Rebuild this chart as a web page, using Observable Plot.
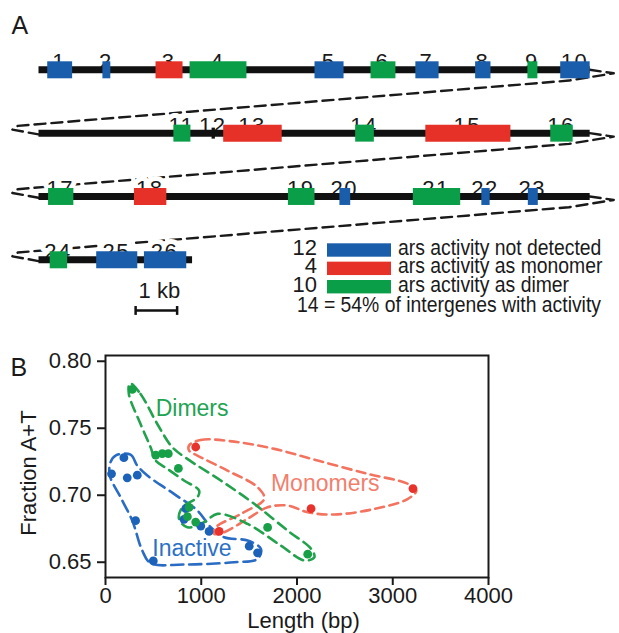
<!DOCTYPE html>
<html><head><meta charset="utf-8">
<script src="https://cdn.jsdelivr.net/npm/d3@7"></script>
<script src="https://cdn.jsdelivr.net/npm/@observablehq/plot@0.6"></script>
<style>
body{margin:0;background:#fff;}
#fig{position:relative;width:619px;height:633px;overflow:hidden;background:#fff;}
#fig svg{position:absolute;left:0;}
</style></head><body><div id="fig"></div>
<script>
const FONT = '"Liberation Sans", Arial, Helvetica, sans-serif';

// ---------- Panel A: intergenic regions (positions in kb along each row) ----------
const ids      = [1,2,3,4,5,6,7,8,9,10, 11,12,13,14,15,16, 17,18,19,20,21,22,23, 24,25,26];
const rows     = [1,1,1,1,1,1,1,1,1,1, 2,2,2,2,2,2, 3,3,3,3,3,3,3, 4,4,4];
const starts   = [0.21,1.54,2.82,3.64,6.65,8.00,9.08,10.52,11.78,12.57, 3.25,4.17,4.45,7.63,9.32,12.33, 0.23,2.30,6.01,7.25,9.02,10.67,11.79, 0.27,1.39,2.54];
const ends     = [0.81,1.73,3.47,5.01,7.35,8.60,9.64,10.89,12.02,13.28, 3.66,4.25,5.86,8.08,11.37,12.87, 0.84,3.08,6.65,7.51,10.16,10.87,12.03, 0.69,2.38,3.56];
const activity = ["none","none","monomer","dimer","none","dimer","none","none","dimer","none",
                  "dimer","none","monomer","dimer","monomer","dimer",
                  "dimer","monomer","dimer","none","dimer","none","none",
                  "dimer","none","none"];
const rowLengths = [13.28, 13.28, 13.28, 3.70];
const activityText = {none:"ars activity not detected", monomer:"ars activity as monomer", dimer:"ars activity as dimer"};
const activityOrder = ["none","monomer","dimer"];
const scaleBarKb = 1;
const scaleBarStart = 2.34;

// ---------- Panel B: length vs fraction A+T ----------
const inactiveLen = [192, 63, 227, 332, 314, 499, 838, 820, 995, 1082, 1501, 1588];
const inactiveAT  = [0.728, 0.716, 0.713, 0.715, 0.681, 0.651, 0.690, 0.682, 0.677, 0.673, 0.662, 0.657];
const dimerLen    = [280, 524, 593, 656, 761, 873, 855, 942, 1693, 2112];
const dimerAT     = [0.779, 0.730, 0.731, 0.731, 0.720, 0.691, 0.684, 0.680, 0.676, 0.656];
const monomerLen  = [942, 3211, 2147, 1187];
const monomerAT   = [0.736, 0.705, 0.690, 0.673];

const inactiveOutlineLen = [105,262,332,437,715,960,1099,1239,1484,1623,1588,1344,820,471,384,279,157,45,52];
const inactiveOutlineAT  = [0.7296,0.7303,0.7221,0.7147,0.7010,0.6886,0.6761,0.6686,0.6662,0.6600,0.6525,0.6500,0.6483,0.6493,0.6587,0.6811,0.6985,0.7147,0.7246];
const dimerOutlineLen = [255,366,541,698,855,1204,1553,1902,2147,2181,2077,1832,1484,1169,1030,855,768,803,960,977,820,646,524,471,366,244];
const dimerOutlineAT  = [0.7836,0.7756,0.7532,0.7358,0.7271,0.7110,0.6936,0.6736,0.6600,0.6537,0.6513,0.6624,0.6786,0.6861,0.6798,0.6761,0.6824,0.6910,0.6985,0.7035,0.7110,0.7197,0.7259,0.7358,0.7532,0.7756];
const monomerOutlineLen = [873,995,1344,1763,2216,2740,3159,3246,3159,2810,2391,2112,1902,1693,1484,1239,1134,1152,1414,1658,1588,1274,960,873];
const monomerOutlineAT  = [0.7371,0.7413,0.7400,0.7346,0.7259,0.7159,0.7085,0.7035,0.6973,0.6898,0.6856,0.6873,0.6923,0.6910,0.6824,0.6724,0.6712,0.6761,0.6861,0.6973,0.7060,0.7184,0.7296,0.7333];

const groupNames = ["Dimers","Monomers","Inactive"];
const groupLabelLen = [524, 1728, 489];
const groupLabelAT  = [0.7594, 0.7035, 0.655];

const xTicks = [0,1000,2000,3000,4000];
const yTicks = [0.65,0.70,0.75,0.80];

// ---------- colours ----------
const blockColor = {none:"#1a5eab", monomer:"#e53127", dimer:"#0b9e48"};
const groupLine  = {Dimers:"#22a24c", Monomers:"#f27460", Inactive:"#2a6cc4"};
const groupText  = {Dimers:"#22a352", Monomers:"#f27f6e", Inactive:"#2c70c6"};
const groupDot   = {Dimers:"#17a048", Monomers:"#e8322c", Inactive:"#1c62b8"};

// ---------- build panel A ----------
const blocks = ids.map((id,i)=>({id, row:rows[i], start:starts[i], end:ends[i], act:activity[i]}));
const rowData = rowLengths.map((L,i)=>({row:i+1, L}));
const connPts = [];
for (let r = 1; r < rowLengths.length; r++) {
  const L = rowLengths[r-1];
  [[L,r],[L+0.58,r+0.055],[L-0.5,r+0.17],[-0.5,r+0.885],[-0.63,r+0.945],[0,r+1.02]]
    .forEach(([x,y])=>connPts.push({r,x,y}));
}
const isTiny = d => d.end - d.start < 0.1;
const labelDx = d => d.id===13 ? 8 : (d.id===10 ? 5 : 2);

const pa = Plot.plot({
  width:619, height:330, marginTop:0, marginLeft:0, marginRight:0, marginBottom:0,
  style:{fontFamily:FONT, fontSize:"22px", background:"transparent", color:"#1a1a1a"},
  x:{domain:[0,13.3], range:[38,590], axis:null},
  y:{domain:[1,4], range:[69.3,259.3], axis:null},
  color:{type:"identity"},
  marks:[
    Plot.line(connPts, {x:"x", y:"y", z:"r", stroke:"#1a1a1a", strokeWidth:2.4, strokeDasharray:"11,6", strokeLinejoin:"round"}),
    Plot.text(blocks, {x:d=>(d.start+d.end)/2, y:"row", text:d=>String(d.id), dy:-11, dx:labelDx,
      lineAnchor:"bottom", fontSize:22, fill:"#1a1a1a", stroke:"white", strokeWidth:10, paintOrder:"stroke"}),
    Plot.link(rowData, {x1:()=>0, x2:"L", y1:"row", y2:"row", stroke:"#111", strokeWidth:7}),
    Plot.link(blocks.filter(d=>!isTiny(d)), {x1:"start", x2:"end", y1:"row", y2:"row", stroke:d=>blockColor[d.act], strokeWidth:17}),
    Plot.link(blocks.filter(isTiny), {x1:"start", x2:"end", y1:"row", y2:"row", stroke:"#111", strokeWidth:11}),
    Plot.link([scaleBarStart], {x1:d=>d, x2:d=>d+scaleBarKb, y1:()=>4.8, y2:()=>4.8, stroke:"#111", strokeWidth:2.5}),
    Plot.link([scaleBarStart, scaleBarStart+scaleBarKb], {x1:d=>d, x2:d=>d, y1:()=>4.73, y2:()=>4.87, stroke:"#111", strokeWidth:2.5}),
    Plot.text([scaleBarStart+scaleBarKb/2], {x:d=>d, y:()=>4.8, text:()=>`${scaleBarKb} kb`, dy:-12, dx:3, textAnchor:"middle", lineAnchor:"bottom", fontSize:22, fill:"#1a1a1a"}),
    Plot.text(["A"], {frameAnchor:"top-left", text:d=>d, dx:11, dy:33, textAnchor:"start", lineAnchor:"bottom", fontSize:25, fill:"#1a1a1a"})
  ]
});
pa.style.top = "0px";
d3.select(pa).selectAll("text").filter(function(){return /^\d+$/.test(this.textContent);}).style("letter-spacing","1.5px");

// legend (counts from data)
const counts = Object.fromEntries(activityOrder.map(a=>[a, activity.filter(v=>v===a).length]));
const lg = d3.select(pa).append("g").attr("font-family", FONT).attr("fill", "#1a1a1a").attr("text-anchor","start");
activityOrder.forEach((a,i)=>{
  const yb = 255 + i*18.35;
  lg.append("text").attr("x",317).attr("y",yb).attr("text-anchor","end").attr("font-size",22).text(counts[a]);
  lg.append("rect").attr("x",327).attr("y",yb-11.7).attr("width",64).attr("height",13.4).attr("fill",blockColor[a]);
  lg.append("text").attr("transform",`translate(398,${yb}) scale(0.88,1)`).attr("text-anchor","start").attr("font-size",22).text(activityText[a]);
});
const nActive = counts.monomer + counts.dimer;
const pct = Math.round(100*nActive/activity.length);
lg.append("text").attr("transform","translate(297,311.7) scale(0.88,1)").attr("text-anchor","start").attr("font-size",22)
  .text(`${nActive} = ${pct}% of intergenes with activity`);

// ---------- build panel B ----------
const zip = (xs, ys) => xs.map((x,i)=>({x, y:ys[i]}));
const outlines = [
  {g:"Inactive", pts:zip(inactiveOutlineLen, inactiveOutlineAT), dash:"12,6"},
  {g:"Monomers", pts:zip(monomerOutlineLen, monomerOutlineAT), dash:"9,5.5"},
  {g:"Dimers",   pts:zip(dimerOutlineLen, dimerOutlineAT), dash:"10,6"}
];
const points = [
  ...zip(inactiveLen, inactiveAT).map(d=>({...d, g:"Inactive"})),
  ...zip(monomerLen, monomerAT).map(d=>({...d, g:"Monomers"})),
  ...zip(dimerLen, dimerAT).map(d=>({...d, g:"Dimers"}))
];
const glabels = groupNames.map((n,i)=>({n, x:groupLabelLen[i], y:groupLabelAT[i]}));

const hasAxisMarks = typeof Plot.axisX === "function";
const axesB = hasAxisMarks ? [
  Plot.axisX({anchor:"bottom", ticks:xTicks, tickFormat:"d", tickSize:8, tickPadding:2, strokeWidth:2, fontSize:22, fill:"#1a1a1a", label:null}),
  Plot.axisY({anchor:"left", ticks:yTicks, tickFormat:".2f", tickSize:8, tickPadding:6, strokeWidth:2, fontSize:22, fill:"#1a1a1a", label:null})
] : [];

const pb = Plot.plot({
  width:619, height:303, marginLeft:105, marginRight:131, marginTop:25, marginBottom:56,
  style:{fontFamily:FONT, fontSize:"22px", background:"transparent", color:"#1a1a1a"},
  x:{domain:[0,4000], ticks:xTicks, tickFormat:"d", tickSize:8, tickPadding:2, label:null},
  y:{domain:[0.6386,0.8043], ticks:yTicks, tickFormat:".2f", tickSize:8, tickPadding:6, label:null},
  color:{type:"identity"},
  marks:[
    ...outlines.map(o=>Plot.line(o.pts, {x:"x", y:"y", curve:"catmull-rom-closed", stroke:groupLine[o.g], strokeWidth:2.6, strokeDasharray:o.dash})),
    Plot.dot(points, {x:"x", y:"y", r:4.4, fill:d=>groupDot[d.g], stroke:"none"}),
    Plot.text(glabels, {x:"x", y:"y", text:"n", textAnchor:"start", lineAnchor:"bottom", fontSize:23, fill:d=>groupText[d.n]}),
    Plot.frame({stroke:"#1a1a1a", strokeWidth:2}),
    ...axesB,
    Plot.text(["Fraction A+T"], {frameAnchor:"left", text:d=>d, rotate:-90, textAnchor:"middle", lineAnchor:"middle", dx:-77, dy:6.5, fontSize:22, fill:"#1a1a1a"}),
    Plot.text(["Length (bp)"], {frameAnchor:"bottom", text:d=>d, textAnchor:"middle", dx:6.5, dy:50, lineAnchor:"bottom", fontSize:22, fill:"#1a1a1a"}),
    Plot.text(["B"], {frameAnchor:"top-left", text:d=>d, dx:-95, dy:20, textAnchor:"start", lineAnchor:"bottom", fontSize:25, fill:"#1a1a1a"})
  ]
});
pb.id = "pb";
pb.style.top = "330px";

const fig = document.getElementById("fig");
fig.appendChild(pa);
fig.appendChild(pb);
</script>
</body></html>
